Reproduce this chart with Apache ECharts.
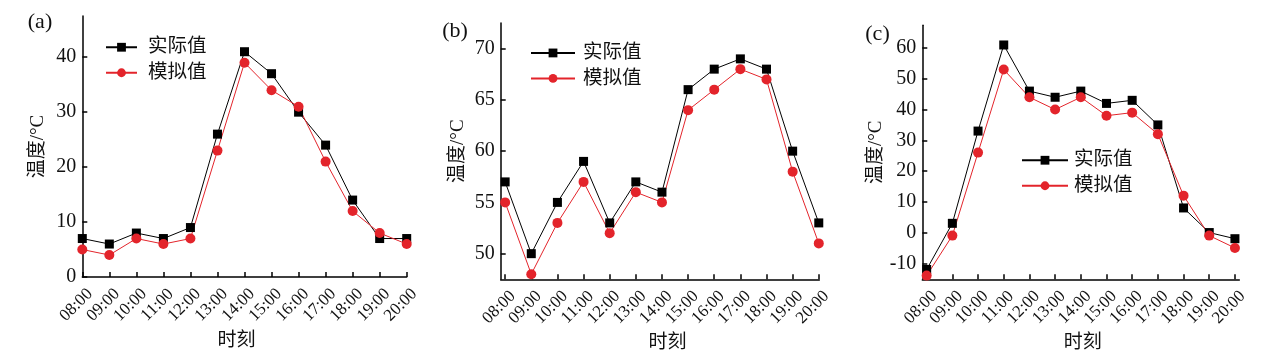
<!DOCTYPE html>
<html><head><meta charset="utf-8">
<script src="https://cdn.jsdelivr.net/npm/echarts@6/dist/echarts.min.js"></script>
<style>html,body{margin:0;padding:0;background:#fff}#c{width:1274px;height:358px}</style>
</head><body><div id="c"></div>
<script>
// ---- data ----
const times = ['08:00','09:00','10:00','11:00','12:00','13:00','14:00','15:00','16:00','17:00','18:00','19:00','20:00'];
const actualA = [7, 6, 8, 7, 9, 26, 41, 37, 30, 24, 14, 7, 7];
const simA    = [5, 4, 7, 6, 7, 23, 39, 34, 31, 21, 12, 8, 6];
const actualB = [57, 50, 55, 59, 53, 57, 56, 66, 68, 69, 68, 60, 53];
const simB    = [55, 48, 53, 57, 52, 56, 55, 64, 66, 68, 67, 58, 51];
const actualC = [-12, 3, 33, 61, 46, 44, 46, 42, 43, 35, 8, 0, -2];
const simC    = [-14, -1, 26, 53, 44, 40, 44, 38, 39, 32, 12, -1, -5];
const yTicksA = [0, 10, 20, 30, 40];
const yTicksB = [50, 55, 60, 65, 70];
const yTicksC = [-10, 0, 10, 20, 30, 40, 50, 60];
const xTicks = times.map((t, i) => i);
const seriesNames = ['实际值', '模拟值'];
const panelLabels = ['(a)', '(b)', '(c)'];

// ---- styles / layout ----
const FONT = '"Liberation Serif","Noto Sans CJK SC",serif';
const TXT = '#111';
const RED = '#e3242b';
const panels = [
  {grid:{left:82.3, top:16, width:324.4, height:261}, xMin:0, xMax:12, yMin:0, yMax:47.5, yTicks:yTicksA,
   actual:actualA, sim:simA, legend:{left:105, top:37.5}, iw:31, pad:6, yGap:35, xGap:53, xPad:[0,16,0,0], lx:40, ly:22.5},
  {grid:{left:500.7, top:23, width:318.6, height:260}, xMin:-0.17, xMax:12.02, yMin:47.5, yMax:72.5, yTicks:yTicksB,
   actual:actualB, sim:simB, legend:{left:530, top:43.2}, iw:44, pad:3, yGap:33, xGap:47, xPad:[0,0,0,15], lx:455, ly:31.7},
  {grid:{left:922.3, top:25.3, width:317, height:259}, xMin:-0.17, xMax:12.17, yMin:-15.2, yMax:67.4, yTicks:yTicksC,
   actual:actualC, sim:simC, legend:{left:1021, top:150.5}, iw:46, pad:1, yGap:32.5, xGap:46, xPad:[0,0,0,4], lx:877.5, ly:34}
];

const axisLine = {onZero:false, lineStyle:{color:'#000', width:1.5}};
const option = {animation:false, grid:[], xAxis:[], yAxis:[], legend:[], series:[], graphic:[]};
panels.forEach((p, i) => {
  option.grid.push(Object.assign({containLabel:false}, p.grid));
  option.xAxis.push({
    type:'value', gridIndex:i, min:p.xMin, max:p.xMax,
    axisLine:axisLine,
    axisTick:{inside:true, length:5, customValues:xTicks, lineStyle:{color:'#000', width:1.5}},
    axisLabel:{customValues:xTicks, formatter:v => times[Math.round(v)], rotate:45, align:'center', verticalAlign:'bottom',
               margin:34, fontFamily:FONT, fontSize:17, color:TXT},
    splitLine:{show:false}, minorTick:{show:false},
    name:'时刻', nameLocation:'middle', nameGap:p.xGap,
    nameTextStyle:{fontFamily:FONT, fontSize:19, color:TXT, padding:p.xPad}
  });
  option.yAxis.push({
    type:'value', gridIndex:i, min:p.yMin, max:p.yMax,
    axisLine:axisLine,
    axisTick:{inside:true, length:5, customValues:p.yTicks, lineStyle:{color:'#000', width:1.5}},
    axisLabel:{customValues:p.yTicks, margin:6, fontFamily:FONT, fontSize:20, color:TXT},
    splitLine:{show:false}, minorTick:{show:false},
    name:'温度/°C', nameLocation:'middle', nameGap:p.yGap,
    nameTextStyle:{fontFamily:FONT, fontSize:19, color:TXT}
  });
  option.legend.push({
    left:p.legend.left, top:p.legend.top, orient:'vertical', data:seriesNames,
    itemWidth:p.iw, itemHeight:11, itemGap:6, selectedMode:false, padding:0,
    textStyle:{fontFamily:FONT, fontSize:19.5, color:TXT, padding:[0,0,0,p.pad]}
  });
  option.series.push({
    type:'line', name:seriesNames[0], xAxisIndex:i, yAxisIndex:i,
    data:p.actual.map((v, j) => [xTicks[j], v]),
    symbol:'rect', symbolSize:9, showAllSymbol:true, clip:false,
    lineStyle:{color:'#000', width:1}, itemStyle:{color:'#000'}
  });
  option.series.push({
    type:'line', name:seriesNames[1], xAxisIndex:i, yAxisIndex:i,
    data:p.sim.map((v, j) => [xTicks[j], v]),
    symbol:'circle', symbolSize:10, showAllSymbol:true, clip:false,
    lineStyle:{color:RED, width:1}, itemStyle:{color:RED}
  });
  option.graphic.push({
    type:'text', x:p.lx, y:p.ly,
    style:{text:panelLabels[i], fill:TXT, font:'22px "Liberation Serif"', align:'center', verticalAlign:'middle'}
  });
});

const chart = echarts.init(document.getElementById('c'));
chart.setOption(option);
</script>
</body></html>
